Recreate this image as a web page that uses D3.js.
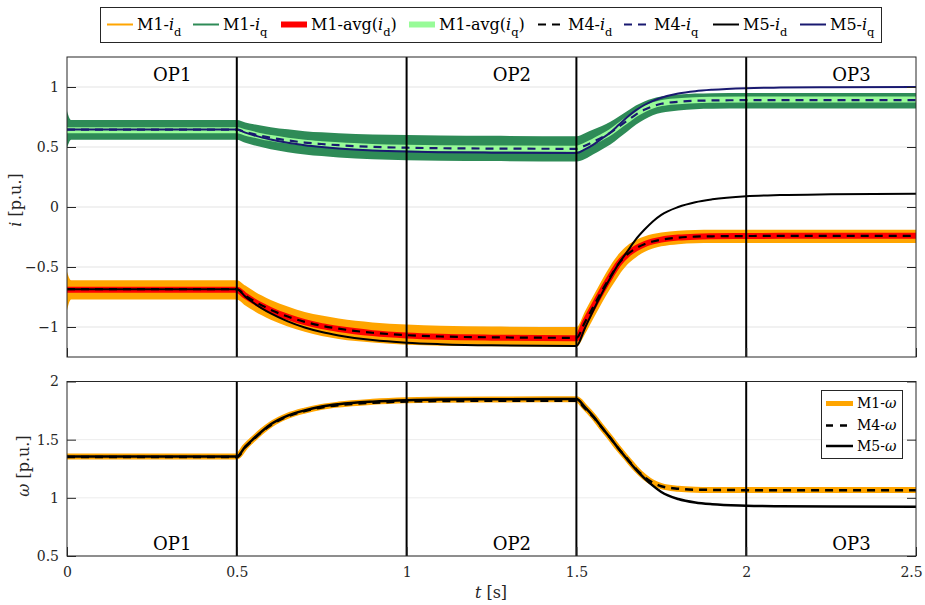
<!DOCTYPE html>
<html>
<head>
<meta charset="utf-8">
<script src="https://cdn.jsdelivr.net/npm/d3@7"></script>
<style>
  body { margin: 0; background: #fff; }
</style>
</head>
<body>
<svg></svg>
<script>
// time samples [s]
const tGrid = [0, 0.012, 0.5, 0.525, 0.55, 0.575, 0.6, 0.65, 0.7, 0.75, 0.8, 0.9, 1.0, 1.1, 1.25, 1.5,
  1.525, 1.55, 1.575, 1.6, 1.625, 1.65, 1.675, 1.7, 1.725, 1.75, 1.8, 1.85, 1.9, 2.0, 2.1, 2.25, 2.5];

// currents [p.u.]
const m1IdUpper = [-0.54, -0.61, -0.61, -0.655, -0.70, -0.74, -0.775, -0.83, -0.875, -0.905, -0.93, -0.962, -0.98, -0.99, -0.996, -1.0,
  -0.87, -0.74, -0.61, -0.49, -0.39, -0.32, -0.275, -0.245, -0.225, -0.212, -0.198, -0.192, -0.19, -0.19, -0.19, -0.19, -0.19];
const m1IdLower = [-0.86, -0.77, -0.77, -0.82, -0.865, -0.905, -0.94, -0.995, -1.04, -1.075, -1.10, -1.13, -1.148, -1.156, -1.16, -1.165,
  -1.06, -0.93, -0.80, -0.68, -0.57, -0.48, -0.42, -0.375, -0.345, -0.328, -0.31, -0.303, -0.30, -0.30, -0.30, -0.30, -0.30];
const m1IqUpper = [0.80, 0.725, 0.725, 0.705, 0.69, 0.677, 0.665, 0.647, 0.632, 0.622, 0.615, 0.605, 0.60, 0.596, 0.593, 0.59,
  0.615, 0.645, 0.675, 0.71, 0.755, 0.80, 0.845, 0.88, 0.905, 0.92, 0.937, 0.945, 0.948, 0.95, 0.95, 0.95, 0.95];
const m1IqLower = [0.49, 0.56, 0.56, 0.535, 0.515, 0.497, 0.482, 0.457, 0.438, 0.424, 0.413, 0.398, 0.39, 0.386, 0.383, 0.38,
  0.40, 0.44, 0.48, 0.52, 0.575, 0.63, 0.685, 0.73, 0.765, 0.785, 0.805, 0.815, 0.818, 0.82, 0.82, 0.82, 0.82];
const m1AvgId = [-0.69, -0.69, -0.69, -0.74, -0.785, -0.825, -0.86, -0.916, -0.96, -0.993, -1.017, -1.051, -1.071, -1.082, -1.089, -1.093,
  -0.96, -0.83, -0.70, -0.58, -0.47, -0.395, -0.345, -0.31, -0.287, -0.272, -0.255, -0.247, -0.244, -0.242, -0.24, -0.24, -0.24];
const m1AvgIq = [0.64, 0.64, 0.64, 0.621, 0.604, 0.588, 0.575, 0.553, 0.536, 0.524, 0.514, 0.501, 0.494, 0.49, 0.487, 0.485,
  0.51, 0.545, 0.582, 0.623, 0.675, 0.727, 0.777, 0.817, 0.847, 0.866, 0.882, 0.89, 0.893, 0.895, 0.895, 0.895, 0.895];
const m4Id = [-0.685, -0.685, -0.685, -0.737, -0.782, -0.822, -0.857, -0.913, -0.957, -0.99, -1.014, -1.048, -1.068, -1.079, -1.086, -1.09,
  -0.96, -0.83, -0.70, -0.58, -0.47, -0.395, -0.345, -0.31, -0.287, -0.272, -0.255, -0.247, -0.244, -0.242, -0.24, -0.24, -0.24];
const m4Iq = [0.645, 0.645, 0.645, 0.625, 0.607, 0.591, 0.577, 0.555, 0.537, 0.525, 0.515, 0.501, 0.494, 0.49, 0.487, 0.485,
  0.51, 0.545, 0.58, 0.62, 0.67, 0.72, 0.77, 0.81, 0.84, 0.86, 0.877, 0.885, 0.888, 0.89, 0.89, 0.89, 0.89];
const m5Id = [-0.685, -0.685, -0.685, -0.747, -0.80, -0.847, -0.887, -0.953, -1.004, -1.042, -1.07, -1.109, -1.131, -1.143, -1.153, -1.158,
  -1.01, -0.86, -0.72, -0.59, -0.47, -0.37, -0.27, -0.19, -0.12, -0.065, 0.0, 0.04, 0.064, 0.09, 0.10, 0.106, 0.11];
const m5Iq = [0.645, 0.645, 0.645, 0.62, 0.598, 0.578, 0.562, 0.535, 0.514, 0.499, 0.487, 0.471, 0.462, 0.457, 0.453, 0.45,
  0.48, 0.52, 0.57, 0.62, 0.685, 0.75, 0.805, 0.85, 0.885, 0.91, 0.945, 0.965, 0.977, 0.99, 0.995, 0.998, 1.0];

// speed [p.u.]
const m1W = [1.355, 1.355, 1.355, 1.44, 1.51, 1.575, 1.63, 1.705, 1.75, 1.782, 1.802, 1.825, 1.838, 1.843, 1.846, 1.847,
  1.78, 1.70, 1.605, 1.515, 1.42, 1.335, 1.25, 1.18, 1.13, 1.10, 1.078, 1.07, 1.068, 1.067, 1.067, 1.067, 1.067];
const m4W = [1.35, 1.35, 1.35, 1.435, 1.505, 1.57, 1.625, 1.70, 1.745, 1.777, 1.797, 1.817, 1.828, 1.832, 1.834, 1.835,
  1.77, 1.695, 1.605, 1.515, 1.42, 1.335, 1.25, 1.18, 1.13, 1.10, 1.078, 1.07, 1.068, 1.066, 1.065, 1.065, 1.065];
const m5W = [1.355, 1.355, 1.355, 1.44, 1.51, 1.575, 1.632, 1.707, 1.752, 1.785, 1.805, 1.827, 1.839, 1.845, 1.848, 1.85,
  1.78, 1.70, 1.605, 1.515, 1.42, 1.33, 1.245, 1.17, 1.105, 1.05, 0.99, 0.96, 0.945, 0.933, 0.928, 0.925, 0.924];

// ticks, markers, labels
const xTicks = [0, 0.5, 1, 1.5, 2, 2.5];
const iTicks = [-1, -0.5, 0, 0.5, 1];
const wTicks = [0.5, 1, 1.5, 2];
const switchTimes = [0.5, 1, 1.5, 2];
const opLabels = ["OP1", "OP2", "OP3"];
const opTimes = [0.31, 1.31, 2.31];

const SERIF = "DejaVu Serif";

const svg = d3.select("svg").attr("width", 925).attr("height", 605)
  .attr("font-family", SERIF);

const x = d3.scaleLinear().domain([0, 2.5]).range([67, 916]);
const yI = d3.scaleLinear().domain([-1.25, 1.25]).range([357, 57]);
const yW = d3.scaleLinear().domain([0.5, 2]).range([556, 381.5]);

const fmt = d3.format("~g");
const idx = d3.range(tGrid.length);

// build one axes panel
function panel(y, yTicks, gridColor, name) {
  const [y0, y1] = y.range();
  const g = svg.append("g");

  svg.append("clipPath").attr("id", "clip-" + name)
    .append("rect")
    .attr("x", x(0)).attr("y", y1)
    .attr("width", x(2.5) - x(0)).attr("height", y0 - y1);

  // grid
  g.selectAll("line.grid").data(yTicks).enter().append("line")
    .attr("x1", x(0)).attr("x2", x(2.5))
    .attr("y1", d => y(d)).attr("y2", d => y(d))
    .attr("stroke", gridColor).attr("stroke-width", 1);

  const plot = g.append("g").attr("clip-path", `url(#clip-${name})`);
  return { g, plot, y };
}

function finishPanel(p, yTicks, showX) {
  const { g, y } = p;
  const [y0, y1] = y.range();

  // switching instants
  g.selectAll("line.sw").data(switchTimes).enter().append("line")
    .attr("x1", d => x(d)).attr("x2", d => x(d))
    .attr("y1", y0).attr("y2", y1)
    .attr("stroke", "#000").attr("stroke-width", 2);

  // box + inner ticks
  g.append("rect")
    .attr("x", x(0)).attr("y", y1)
    .attr("width", x(2.5) - x(0)).attr("height", y0 - y1)
    .attr("fill", "none").attr("stroke", "#262626").attr("stroke-width", 1);

  const left = d3.axisLeft(y).tickValues(yTicks).tickSize(-9).tickFormat(fmt).tickPadding(8);
  const right = d3.axisRight(y).tickValues(yTicks).tickSize(-9).tickFormat("");
  const bottom = d3.axisBottom(x).tickValues(xTicks).tickSize(-9).tickPadding(11)
    .tickFormat(showX ? fmt : "");

  [[left, `translate(${x(0)},0)`], [right, `translate(${x(2.5)},0)`], [bottom, `translate(0,${y0})`]]
    .forEach(([ax, tr]) => {
      const a = g.append("g").attr("transform", tr).call(ax).attr("font-family", SERIF).attr("font-size", 14);
      a.select(".domain").remove();
      a.selectAll("line").attr("stroke", "#262626");
      a.selectAll("text").attr("fill", "#262626");
    });

  // keep the last x label inside the page
  if (showX) g.selectAll("text").filter(d => d === 2.5).attr("dx", -5);
}

function band(p, lo, hi, color) {
  p.plot.append("path").datum(idx)
    .attr("d", d3.area().curve(d3.curveMonotoneX)
      .x(i => x(tGrid[i])).y0(i => p.y(lo[i])).y1(i => p.y(hi[i])))
    .attr("fill", color);
}

function line(p, vals, color, width, dash) {
  p.plot.append("path").datum(idx)
    .attr("d", d3.line().curve(d3.curveMonotoneX)
      .x(i => x(tGrid[i])).y(i => p.y(vals[i])))
    .attr("fill", "none").attr("stroke", color).attr("stroke-width", width)
    .attr("stroke-dasharray", dash || null);
}

// TOP PANEL: currents
const curPanel = panel(yI, iTicks, "#e3e3e3", "top");
band(curPanel, m1IdLower, m1IdUpper, "#ffa500");
band(curPanel, m1IqLower, m1IqUpper, "#2e8b57");
line(curPanel, m1AvgId, "#ff0000", 6);
line(curPanel, m1AvgIq, "#98fb98", 6);
line(curPanel, m4Id, "#000", 2.2, "8,6");
line(curPanel, m4Iq, "#191970", 2.2, "8,6");
line(curPanel, m5Id, "#000", 2);
line(curPanel, m5Iq, "#191970", 2);
finishPanel(curPanel, iTicks, false);

// BOTTOM PANEL: speed
const spdPanel = panel(yW, wTicks, "#ececec", "bot");
line(spdPanel, m1W, "#ffa500", 6);
line(spdPanel, m4W, "#000", 2.5, "8,6");
line(spdPanel, m5W, "#000", 2.5);
finishPanel(spdPanel, wTicks, true);

// operating point labels
[81, 550].forEach(yy => {
  svg.append("g").selectAll("text").data(opLabels).enter().append("text")
    .attr("x", (d, i) => x(opTimes[i])).attr("y", yy)
    .attr("text-anchor", "middle").attr("font-size", 18).attr("fill", "#000")
    .text(d => d);
});

// axis labels
svg.append("text").attr("x", 491).attr("y", 598).attr("text-anchor", "middle")
  .attr("font-size", 16).attr("fill", "#262626")
  .call(t => { t.append("tspan").attr("font-style", "italic").text("t"); t.append("tspan").text(" [s]"); });
svg.append("text").attr("transform", "translate(21,200) rotate(-90)").attr("text-anchor", "middle")
  .attr("font-size", 16).attr("fill", "#262626")
  .call(t => { t.append("tspan").attr("font-style", "italic").text("i"); t.append("tspan").text(" [p.u.]"); });
svg.append("text").attr("transform", "translate(29,466) rotate(-90)").attr("text-anchor", "middle")
  .attr("font-size", 16).attr("fill", "#262626")
  .call(t => { t.append("tspan").attr("font-style", "italic").text("ω"); t.append("tspan").text(" [p.u.]"); });

// legend label with subscript: pre + i_sub + post
function subLabel(t, pre, sym, sub, post, size) {
  t.append("tspan").text(pre);
  t.append("tspan").attr("font-style", "italic").text(sym);
  if (sub) t.append("tspan").attr("dy", size * 0.4).attr("font-size", size * 0.72).text(sub);
  if (post) t.append("tspan").attr("dy", -size * 0.4).text(post);
}

// TOP LEGEND
const topLegend = [
  { x: 107, color: "#ffa500", w: 2, pre: "M1-", sub: "d" },
  { x: 193, color: "#2e8b57", w: 2, pre: "M1-", sub: "q" },
  { x: 281, color: "#ff0000", w: 6, pre: "M1-avg(", sub: "d", post: ")" },
  { x: 409, color: "#98fb98", w: 6, pre: "M1-avg(", sub: "q", post: ")" },
  { x: 538, color: "#000", w: 2.2, dash: "8,6", pre: "M4-", sub: "d" },
  { x: 624, color: "#191970", w: 2.2, dash: "8,6", pre: "M4-", sub: "q" },
  { x: 713, color: "#000", w: 2, pre: "M5-", sub: "d" },
  { x: 800, color: "#191970", w: 2, pre: "M5-", sub: "q" }
];
const lgTop = svg.append("g");
lgTop.append("rect").attr("x", 100.5).attr("y", 7.5).attr("width", 781).attr("height", 35)
  .attr("fill", "#fff").attr("stroke", "#262626").attr("stroke-width", 1);
const lgItems = lgTop.selectAll("g.item").data(topLegend).enter().append("g").attr("class", "item");
lgItems.append("line")
  .attr("x1", d => d.x).attr("x2", d => d.x + 26).attr("y1", 24.5).attr("y2", 24.5)
  .attr("stroke", d => d.color).attr("stroke-width", d => d.w)
  .attr("stroke-dasharray", d => d.dash || null);
lgItems.append("text")
  .attr("x", d => d.x + 30).attr("y", 30)
  .attr("font-size", 16).attr("fill", "#000")
  .each(function (d) { subLabel(d3.select(this), d.pre, "i", d.sub, d.post, 16); });

// BOTTOM LEGEND
const botLegend = [
  { y: 403.5, color: "#ffa500", w: 5, pre: "M1-" },
  { y: 425.5, color: "#000", w: 2.5, dash: "7,7", pre: "M4-" },
  { y: 446, color: "#000", w: 2.5, pre: "M5-" }
];
const lgBot = svg.append("g");
lgBot.append("rect").attr("x", 821.5).attr("y", 390.5).attr("width", 81).attr("height", 68)
  .attr("fill", "#fff").attr("stroke", "#262626").attr("stroke-width", 1);
const lbItems = lgBot.selectAll("g.item").data(botLegend).enter().append("g").attr("class", "item");
lbItems.append("line")
  .attr("x1", 826).attr("x2", 853).attr("y1", d => d.y).attr("y2", d => d.y)
  .attr("stroke", d => d.color).attr("stroke-width", d => d.w)
  .attr("stroke-dasharray", d => d.dash || null);
lbItems.append("text")
  .attr("x", 857).attr("y", d => d.y + 4.5)
  .attr("font-size", 14).attr("fill", "#000")
  .each(function (d) { subLabel(d3.select(this), d.pre, "ω", null, null, 14); });
</script>
</body>
</html>
